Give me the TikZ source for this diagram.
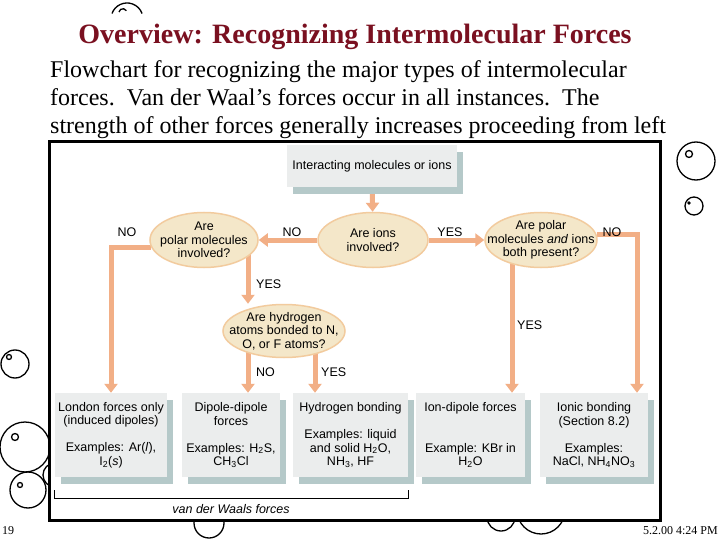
\documentclass[tikz,border=0pt]{standalone}
\usepackage{fontspec}
\setmainfont{Liberation Serif}
\newfontfamily\chartfont{Liberation Sans}
\usetikzlibrary{arrows.meta, positioning, shapes.geometric, shadows}
\definecolor{slidered}{HTML}{7A1020}
\definecolor{boxgray}{HTML}{EBEDED}
\definecolor{boxshade}{HTML}{B5C9C9}
\definecolor{ovalfill}{HTML}{F4E7C9}
\definecolor{ovaldraw}{HTML}{F2CB9E}
\definecolor{arrsalmon}{HTML}{F2AF86}
\pgfdeclarelayer{deco}
\pgfdeclarelayer{bg}
\pgfsetlayers{deco,bg,main}

\begin{document}
\begin{tikzpicture}[
   x=1pt, y=-1pt,
   font=\chartfont\fontsize{12.5}{13.5}\selectfont,
   forcebox/.style={rectangle, fill=boxgray, align=center, inner sep=2pt,
               minimum height=84pt,
               drop shadow={shadow xshift=6pt, shadow yshift=-7pt,
                            fill=boxshade, opacity=1}},
   oval/.style={ellipse, fill=ovalfill, draw=ovaldraw, line width=1.5pt,
               align=center, inner xsep=-20pt, inner ysep=-2pt},
   arr/.style={-{Triangle[length=9pt, width=13pt]}, line width=5pt, arrsalmon},
   lbl/.style={inner sep=1pt},
   bubble/.style={line width=1.3pt}]
 \useasboundingbox (0,0) rectangle (720,540);
 \begin{pgfonlayer}{deco}
  \fill[white] (0,0) rectangle (720,540);
  \draw[bubble] (112,13.5) arc[start angle=200, end angle=340, radius=16];
  \draw[bubble] (119,12) arc[start angle=190, end angle=330, radius=4];
  \draw[bubble] (696,161) circle[radius=19];
  \draw[bubble] (689,154) circle[radius=3.5];
  \draw[bubble] (694,206) circle[radius=9];
  \fill (689,203) circle[radius=1.8];
  \draw[bubble] (15,364) circle[radius=14];
  \draw[bubble] (9,357) circle[radius=2.5];
  \draw[bubble] (25,447) circle[radius=25];
  \draw[bubble] (15,437) circle[radius=3.5];
  \draw[bubble] (28,490) circle[radius=18];
  \draw[bubble] (20,485) circle[radius=2.5];
  \draw[bubble] (55,475) circle[radius=12];
  \draw[bubble] (209,523) circle[radius=15];
  \draw[bubble] (501,517) circle[radius=14];
  \draw[bubble] (541,510) circle[radius=24];
  \draw[line width=3pt, fill=white] (49,142) rectangle (660,520);
 \end{pgfonlayer}

 \node[font=\rmfamily\bfseries\fontsize{28}{32}\selectfont, text=slidered,
       anchor=base] (title) at (355,44) {Overview: Recognizing Intermolecular Forces};
 \node[font=\rmfamily\fontsize{24}{28}\selectfont, anchor=base west, inner sep=0pt]
       (intro1) at (50,78) {Flowchart for recognizing the major types of intermolecular};
 \node[font=\rmfamily\fontsize{24}{28}\selectfont, anchor=base west, inner sep=0pt]
       (intro2) at (50,106) {forces.\ \ Van der Waal’s forces occur in all instances.\ \ The};
 \node[font=\rmfamily\fontsize{24}{28}\selectfont, anchor=base west, inner sep=0pt]
       (intro3) at (50,134) {strength of other forces generally increases proceeding from left};

 \node[forcebox, minimum height=42pt, minimum width=170pt] (start) at (372,166)
       {Interacting molecules or ions};
 \node[oval, minimum width=110pt, minimum height=55pt] (ions) at (373,240)
       {Are ions\\involved?};
 \node[oval, minimum width=108pt, minimum height=55pt] (polar) at (204,240)
       {Are\\polar molecules\\involved?};
 \node[oval, minimum width=112pt, minimum height=55pt] (both) at (541,240)
       {Are polar\\molecules \textit{and} ions\\both present?};
 \node[oval, minimum width=122pt, minimum height=53pt] (hbq) at (284,331)
       {Are hydrogen\\atoms bonded to N,\\O, or F atoms?};

 \node[forcebox, minimum width=112pt] (london) at (111,435)
       {London forces only\\(induced dipoles)\\[13.5pt]Examples: Ar(\textit{l}),\\I\textsubscript{2}(\textit{s})};
 \node[forcebox, minimum width=98pt] (dipole) at (231,435)
       {Dipole-dipole\\forces\\[13.5pt]Examples: H\textsubscript{2}S,\\CH\textsubscript{3}Cl};
 \node[forcebox, minimum width=115pt] (hbond) at (350.5,435)
       {Hydrogen bonding\\[13.5pt]Examples: liquid\\and solid H\textsubscript{2}O,\\NH\textsubscript{3}, HF};
 \node[forcebox, minimum width=109pt] (iondip) at (470.5,435)
       {Ion-dipole forces\\[27pt]Example: KBr in\\H\textsubscript{2}O};
 \node[forcebox, minimum width=108pt] (ionic) at (594,435)
       {Ionic bonding\\(Section 8.2)\\[13.5pt]Examples:\\NaCl, NH\textsubscript{4}NO\textsubscript{3}};

 \coordinate (xyes) at (248,0);
 \coordinate (xhb) at (315,0);
 \coordinate (xid) at (512,0);
 \coordinate (xionic) at (637,0);
 \begin{pgfonlayer}{bg}
  \draw[arr] (start) -- (ions);
  \draw[arr] (ions) -- (polar);
  \draw[arr] (ions) -- (both);
  \draw[arr] (polar.188) -| (london);
  \draw[arr] (polar -| xyes) -- (hbq.north -| xyes);
  \draw[arr] (hbq -| xyes) -- (dipole.north -| xyes);
  \draw[arr] (hbq -| xhb) -- (hbond.north -| xhb);
  \draw[arr] (both -| xid) -- (iondip.north -| xid);
  \draw[arr] (both.6) -| (ionic.north -| xionic);
 \end{pgfonlayer}

 \node[lbl] (noleft) at (127,232) {NO};
 \node[lbl] (nomid) at (292,232) {NO};
 \node[lbl] (yesmid) at (450,232) {YES};
 \node[lbl] (noright) at (612,232) {NO};
 \node[lbl, anchor=west] (yespolar) at (255,284) {YES};
 \node[lbl, anchor=west] (nohb) at (255,372) {NO};
 \node[lbl, anchor=west] (yeshb) at (320,372) {YES};
 \node[lbl, anchor=west] (yesboth) at (516,325) {YES};

 \draw[line width=0.8pt] ([yshift=-13pt]london.south west) -- ++(0,8)
       -| ([yshift=-13pt]hbond.south east);
 \node[font=\chartfont\itshape\fontsize{12.5}{13.5}\selectfont] (vdw) at (231,509)
       {van der Waals forces};

 \node[font=\rmfamily\fontsize{12}{14}\selectfont, anchor=west, inner sep=1pt]
       (slideno) at (1,531) {19};
 \node[font=\rmfamily\fontsize{12}{14}\selectfont, anchor=east, inner sep=1pt]
       (stamp) at (719,531) {5.2.00 4:24 PM};
\end{tikzpicture}
\end{document}
